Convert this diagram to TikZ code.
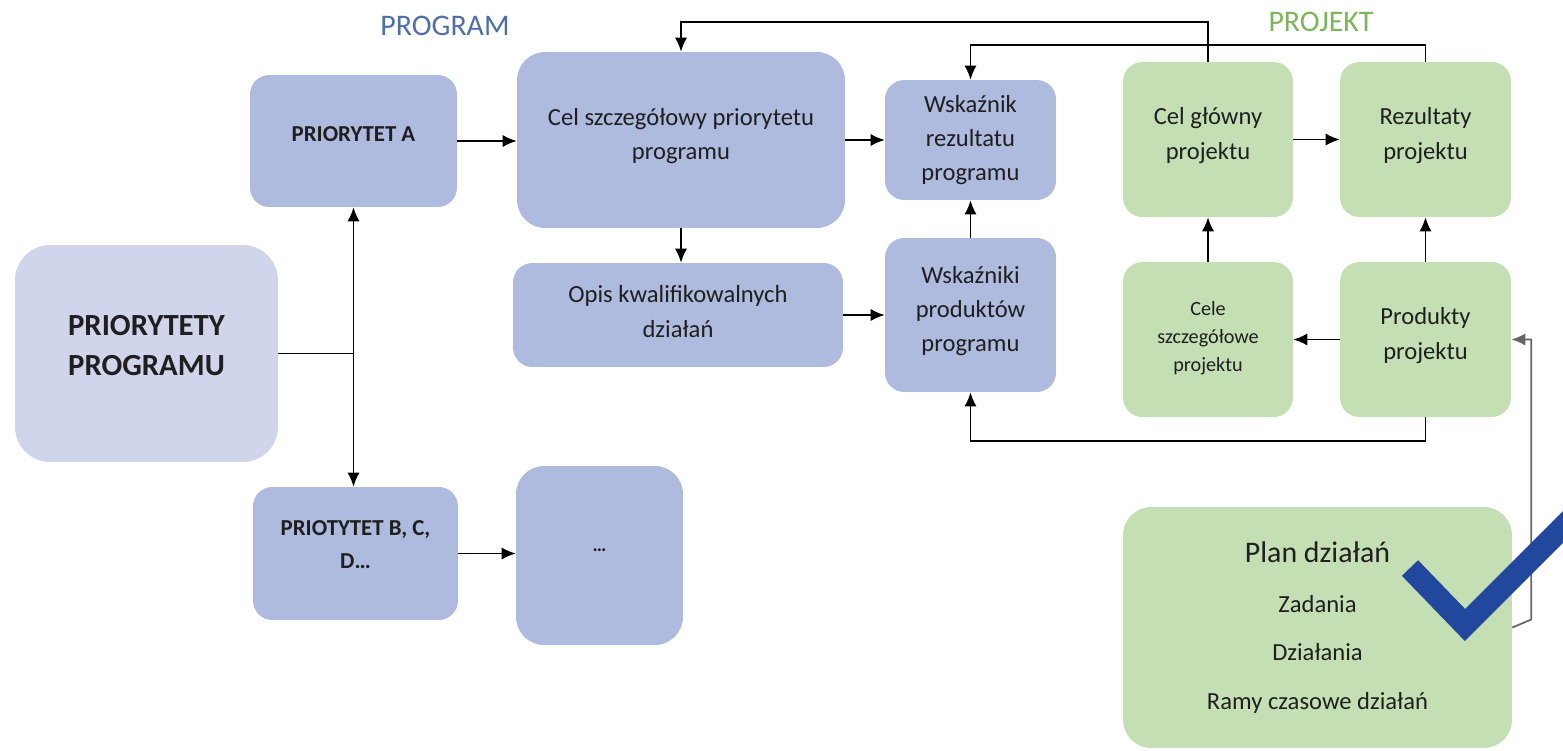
\documentclass[tikz,border=0pt]{standalone}
\usepackage{fontspec}
\setmainfont{Carlito}
\usetikzlibrary{arrows.meta}
\definecolor{progfill}{HTML}{AEBADE}
\definecolor{progpale}{HTML}{D0D5EB}
\definecolor{projfill}{HTML}{C5DFB4}
\definecolor{progtitle}{HTML}{4D6FA9}
\definecolor{projtitle}{HTML}{7AB659}
\definecolor{tickblue}{HTML}{22489E}
\begin{document}
\begin{tikzpicture}[x=0.02cm, y=-0.02cm,
    box/.style={rounded corners=11pt, align=center, inner sep=2pt, text=black!88,
        font=\fontsize{14}{19.5}\selectfont},
    prog/.style={box, fill=progfill},
    proj/.style={box, fill=projfill},
    lift/.style={execute at end node={\rule[-#1]{0pt}{#1}}},
    arr/.style={line width=1pt, -{Latex[length=8pt,width=7pt]}},
    title/.style={font=\fontsize{17}{20}\selectfont}]
    \useasboundingbox (0, 0) rectangle (1563, 751);

    \node[title, text=progtitle] (progT) at (445, 26) {PROGRAM};
    \node[title, text=projtitle] (projT) at (1321, 22) {PROJEKT};

    % program side
    \node[box, fill=progpale, rounded corners=20pt, minimum width=5.26cm, minimum height=4.34cm,
        font=\bfseries\fontsize{17.5}{23}\selectfont, lift=9pt] (prio) at (146.5, 353.5) {PRIORYTETY\\PROGRAMU};
    \node[prog, minimum width=4.14cm, minimum height=2.64cm, font=\bfseries\fontsize{13}{19}\selectfont, lift=8pt]
        (prioA) at (353.5, 141) {PRIORYTET A};
    \node[prog, minimum width=4.1cm, minimum height=2.66cm, font=\bfseries\fontsize{13}{19}\selectfont, lift=10pt]
        (prioB) at (355.5, 553.5) {PRIOTYTET B, C,\\D…};
    \node[prog, minimum width=3.34cm, minimum height=3.58cm, rounded corners=16pt,
        font=\bfseries\fontsize{11}{14}\selectfont, lift=6pt] (dots) at (599.5, 555.5) {…};
    \node[prog, minimum width=6.56cm, minimum height=3.52cm, rounded corners=16pt, lift=7pt]
        (celszcz) at (681, 140) {Cel szczegółowy priorytetu\\programu};
    \node[prog, minimum width=6.6cm, minimum height=2.08cm, lift=4pt] (opis) at (678, 315)
        {Opis kwalifikowalnych\\działań};
    \node[prog, minimum width=3.42cm, minimum height=2.4cm] (wskrez) at (970.5, 140)
        {Wskaźnik\\rezultatu\\programu};
    \node[prog, minimum width=3.42cm, minimum height=3.08cm, lift=7pt] (wskprod) at (970.5, 315)
        {Wskaźniki\\produktów\\programu};

    % project side
    \node[proj, minimum width=3.4cm, minimum height=3.1cm, lift=7pt] (celgl) at (1208, 139.5)
        {Cel główny\\projektu};
    \node[proj, minimum width=3.42cm, minimum height=3.1cm, lift=7pt] (rezult) at (1425.5, 139.5)
        {Rezultaty\\projektu};
    \node[proj, minimum width=3.4cm, minimum height=3.1cm, font=\fontsize{11.5}{16}\selectfont, lift=3pt]
        (celeszcz) at (1208, 339.5) {Cele\\szczegółowe\\projektu};
    \node[proj, minimum width=3.42cm, minimum height=3.1cm, lift=7pt] (produkty) at (1425.5, 339.5)
        {Produkty\\projektu};
    \node[proj, minimum width=7.78cm, minimum height=4.82cm, rounded corners=16pt] (plan) at (1317.5, 627.5)
        {{\fontsize{17}{20}\selectfont Plan działań}\\[9pt]Zadania\\[8pt]Działania\\[8pt]Ramy czasowe działań};

    % connectors
    \draw[line width=1pt] (prio.east) -- (prio.east -| prioA.south);
    \draw[line width=1pt, {Latex[length=8pt,width=7pt]}-{Latex[length=8pt,width=7pt]}]
        (prioA.south) -- (prioA.south |- prioB.north);
    \draw[arr] (prioA.east) -- (prioA.east -| celszcz.west);
    \draw[arr] (prioB.east) -- (prioB.east -| dots.west);
    \draw[arr] (celszcz.east) -- (celszcz.east -| wskrez.west);
    \draw[arr] (celszcz.south) -- (celszcz.south |- opis.north);
    \draw[arr] (opis.east) -- (opis.east -| wskprod.west);
    \draw[arr] (wskprod.north) -- (wskrez.south);
    \draw[arr] (celgl.east) -- (rezult.west);
    \draw[arr] (celeszcz.north) -- (celgl.south);
    \draw[arr] (produkty.north) -- (rezult.south);
    \draw[arr] (produkty.west) -- (celeszcz.east);
    \draw[arr] (celgl.north) -- ++(0, -40) -| (celszcz.north);
    \draw[arr] (rezult.north) -- ++(0, -17) -| (wskrez.north);
    \draw[arr] (produkty.south) -- ++(0, 24) -| (wskprod.south);
    \draw[arr, draw=black!60] (plan.east) -- ++(19, -8) |- (produkty.east);

    % tick
    \draw[tickblue, line width=0.45cm, line join=miter] (1410, 568) -- (1465, 625) -- (1600, 490);
\end{tikzpicture}
\end{document}
